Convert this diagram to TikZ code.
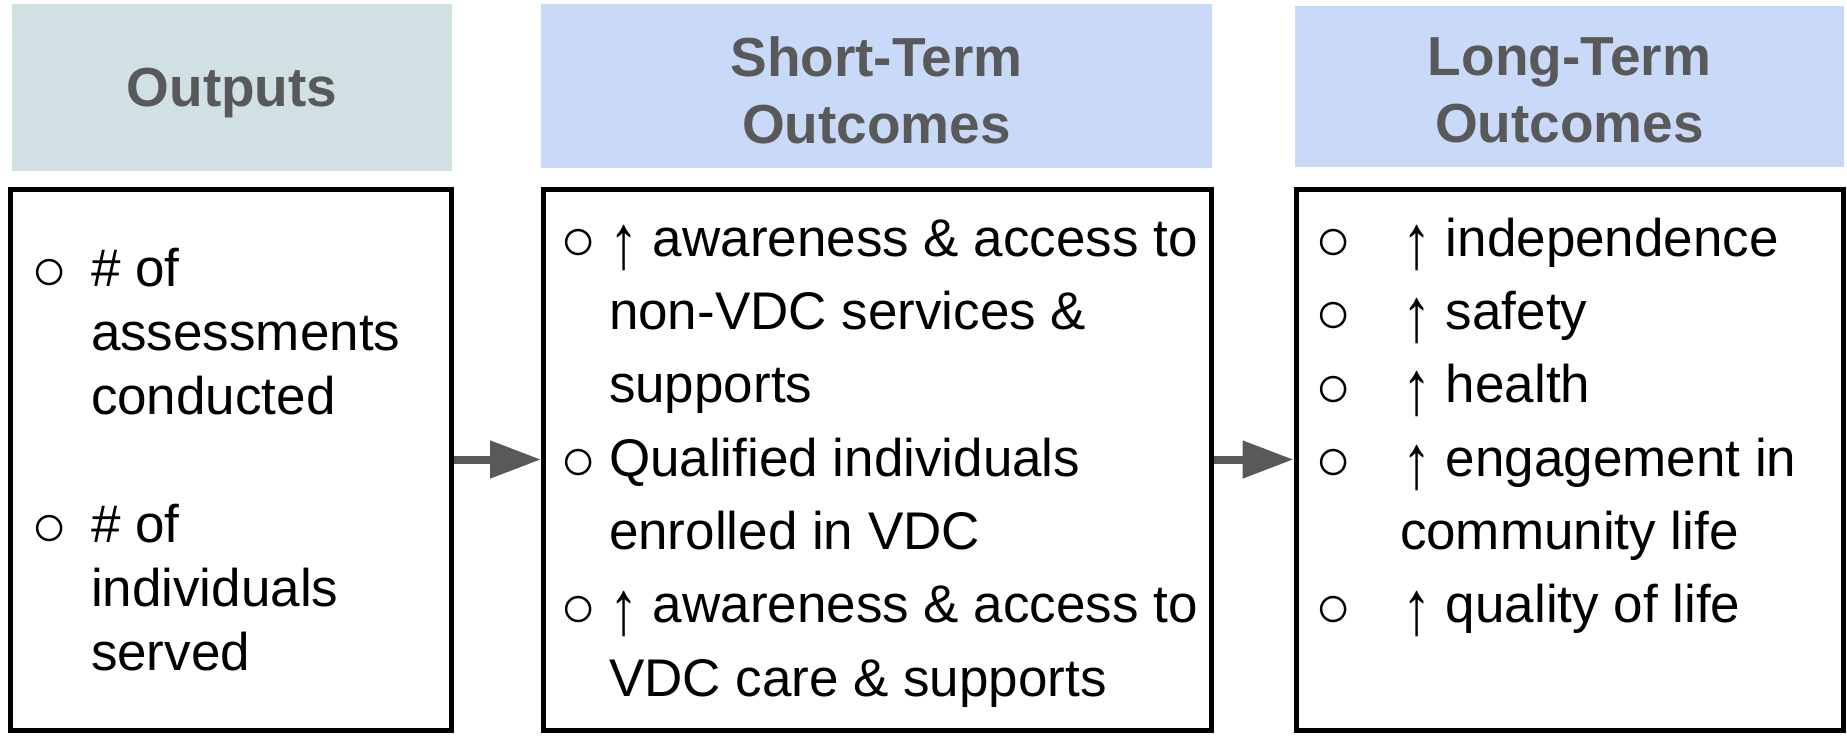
\documentclass[tikz,border=0pt]{standalone}
\usepackage{fontspec}
\setmainfont{Liberation Sans}
\usetikzlibrary{arrows.meta}
\definecolor{hdrA}{HTML}{D0E0E3}
\definecolor{hdrB}{HTML}{C9DAF8}
\definecolor{hdrtext}{HTML}{595959}
\definecolor{arrowgray}{HTML}{595959}
\newcommand{\upar}{\raisebox{-12pt}{\scalebox{1.1}[1.45]{↑}}}
\begin{document}
\begin{tikzpicture}[x=1pt,y=-1pt,
  hdrbox/.style={inner sep=0pt, outer sep=0pt, draw=none},
  hdr/.style={inner sep=0pt, outer sep=0pt, align=center,
    text=hdrtext, font=\fontsize{55}{67}\selectfont\bfseries},
  bodybox/.style={draw=black, line width=5pt, fill=white, inner sep=0pt},
  line/.style={inner sep=0pt, outer sep=0pt, anchor=base west,
    font=\fontsize{53}{64}\selectfont},
  bul/.style={inner sep=0pt, outer sep=0pt, anchor=center,
    font=\fontsize{60}{60}\selectfont},
  conn/.style={draw=arrowgray, line width=8pt,
    -{Triangle[length=51pt,width=36pt]}}]
\useasboundingbox (0,0) rectangle (1847,736);
% headers
\node[hdrbox, fill=hdrA, minimum width=440pt, minimum height=167pt] (h1) at (232,87.5) {};
\node[hdrbox, fill=hdrB, minimum width=671pt, minimum height=164pt] (h2) at (876.5,86) {};
\node[hdrbox, fill=hdrB, minimum width=549pt, minimum height=161pt] (h3) at (1569.5,86.5) {};
\node[hdr] (h1t) at ([yshift=-6pt]h1.center) {Outputs};
\node[hdr] (h2t) at ([yshift=-4pt]h2.center) {Short-Term\\Outcomes};
\node[hdr] (h3t) at ([yshift=-4pt]h3.center) {Long-Term\\Outcomes};
% boxes
\node[bodybox, minimum width=440.5pt, minimum height=541pt] (b1) at (230.75,459.5) {};
\node[bodybox, minimum width=668pt, minimum height=541pt] (b2) at (877.5,459.5) {};
\node[bodybox, minimum width=547pt, minimum height=541pt] (b3) at (1569.5,459.5) {};
% connectors
\draw[conn] (b1.east) -- (b2.west);
\draw[conn] (b2.east) -- (b3.west);
% box 1
\node[bul] (b1u1) at (49.6,275) {○};
\node[line] (b1l1) at (91,286) {\# of};
\node[line] (b1l2) at (91,350) {assessments};
\node[line] (b1l3) at (91,414) {conducted};
\node[bul] (b1u2) at (49.6,531) {○};
\node[line] (b1l4) at (91,542) {\# of};
\node[line] (b1l5) at (91,606) {individuals};
\node[line] (b1l6) at (91,670) {served};
% box 2
\node[bul] (b2u1) at (579,245) {○};
\node[line] (b2l1) at (609,256) {\upar{} awareness \& access to};
\node[line] (b2l2) at (609,329.3) {non-VDC services \&};
\node[line] (b2l3) at (609,402.6) {supports};
\node[bul] (b2u2) at (579,465) {○};
\node[line] (b2l4) at (609,476) {Qualified individuals};
\node[line] (b2l5) at (609,549.3) {enrolled in VDC};
\node[bul] (b2u3) at (579,611.6) {○};
\node[line] (b2l6) at (609,622.6) {\upar{} awareness \& access to};
\node[line] (b2l7) at (609,696) {VDC care \& supports};
% box 3
\node[bul] (b3u1) at (1334,245) {○};
\node[line] (b3l1) at (1402,256) {\upar{} independence};
\node[bul] (b3u2) at (1334,318.3) {○};
\node[line] (b3l2) at (1402,329.3) {\upar{} safety};
\node[bul] (b3u3) at (1334,391.6) {○};
\node[line] (b3l3) at (1402,402.6) {\upar{} health};
\node[bul] (b3u4) at (1334,465) {○};
\node[line] (b3l4) at (1402,476) {\upar{} engagement in};
\node[line] (b3l5) at (1400,549.3) {community life};
\node[bul] (b3u5) at (1334,611.6) {○};
\node[line] (b3l6) at (1402,622.6) {\upar{} quality of life};
\end{tikzpicture}
\end{document}
